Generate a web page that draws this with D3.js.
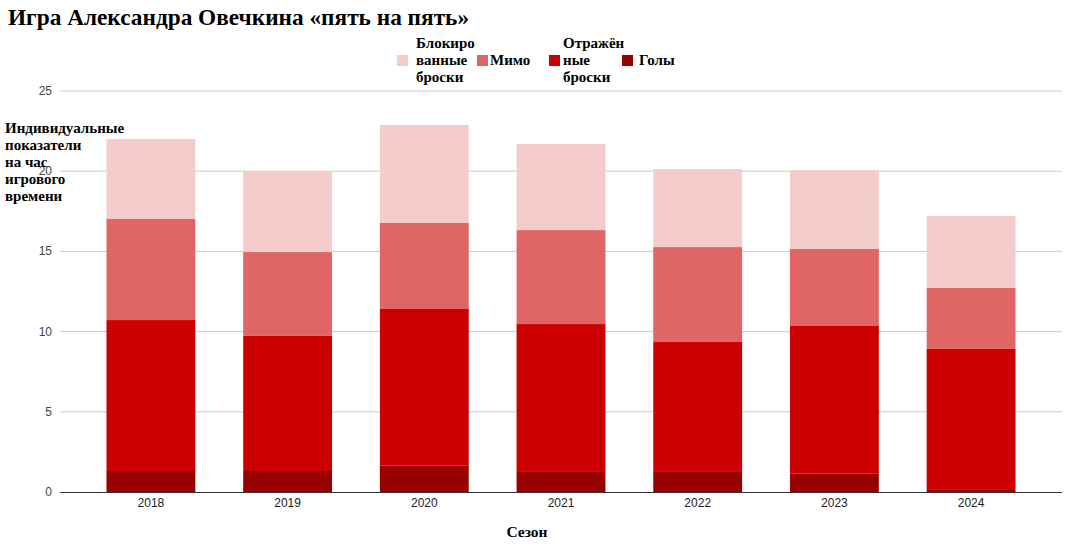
<!DOCTYPE html>
<html><head><meta charset="utf-8">
<script src="https://cdn.jsdelivr.net/npm/d3@7"></script>
<style>body{margin:0;background:#fff}svg{display:block}</style>
</head><body>
<svg id="c" width="1067" height="548"></svg>
<script>
const seasons = ["2018","2019","2020","2021","2022","2023","2024"];
const goals   = [1.31, 1.31, 1.64, 1.25, 1.25, 1.14, 0.18];
const saved   = [9.41, 8.42, 9.77, 9.22, 8.10, 9.21, 8.74];
const missed  = [6.30, 5.23, 5.36, 5.86, 5.92, 4.80, 3.80];
const blocked = [4.98, 5.05, 6.11, 5.37, 4.87, 4.92, 4.49];
const yTicks = [0, 5, 10, 15, 20, 25];
const seriesNames = ["Голы", "Отражённые броски", "Мимо", "Блокированные броски"];
const colors = ["#990000", "#cc0000", "#e06666", "#f4cccc"];

const svg = d3.select("#c");
const x = d3.scaleBand().domain(seasons).range([60, 1062]).paddingInner(0.35).paddingOuter(0.34);
const y = d3.scaleLinear().domain([0, 25]).range([492, 91]);

// gridlines
svg.append("g").selectAll("line").data(yTicks.filter(d => d > 0)).join("line")
  .attr("x1", 60).attr("x2", 1062).attr("y1", d => y(d)).attr("y2", d => y(d))
  .attr("stroke", "#cccccc").attr("stroke-width", 1);

// y tick labels
svg.append("g").selectAll("text").data(yTicks).join("text")
  .attr("x", 52).attr("y", d => y(d) + 4).attr("text-anchor", "end")
  .attr("font-family", "Liberation Sans, Arial, sans-serif").attr("font-size", 12).attr("fill", "#444")
  .text(d => d);

// stacked bars
const rows = seasons.map((s, i) => ({season: s, g: goals[i], s2: saved[i], m: missed[i], b: blocked[i]}));
const stack = d3.stack().keys(["g", "s2", "m", "b"])(rows);
svg.append("g").selectAll("g").data(stack).join("g")
  .attr("fill", (d, i) => colors[i])
  .selectAll("rect").data(d => d).join("rect")
  .attr("x", d => x(d.data.season)).attr("width", x.bandwidth())
  .attr("y", d => y(d[1])).attr("height", d => y(d[0]) - y(d[1]));

// x axis
const xa = svg.append("g").attr("transform", "translate(0,492)")
  .call(d3.axisBottom(x).tickSize(0).tickPadding(6));
xa.select(".domain").attr("stroke", "#333").attr("d", "M60,0.5H1062");
xa.selectAll("text").attr("font-family", "Liberation Sans, Arial, sans-serif").attr("font-size", 12).attr("fill", "#222");

const serif = "Liberation Serif, Times New Roman, serif";
// title
svg.append("text").attr("x", 8).attr("y", 25).attr("font-family", serif).attr("font-weight", "bold")
  .attr("font-size", 23.3).attr("fill", "#000").text("Игра Александра Овечкина «пять на пять»");

// y title
const yt = ["Индивидуальные", "показатели", "на час", "игрового", "времени"];
svg.append("text").attr("font-family", serif).attr("font-weight", "bold").attr("font-size", 15).attr("fill", "#000")
  .selectAll("tspan").data(yt).join("tspan").attr("x", 5).attr("y", (d, i) => 133 + i * 17).text(d => d);

// x title
svg.append("text").attr("x", 527).attr("y", 537).attr("text-anchor", "middle").attr("font-family", serif)
  .attr("font-weight", "bold").attr("font-size", 15.5).text("Сезон");

// legend
const legend = [
  {color: colors[3], sx: 397, tx: 416, lines: ["Блокиро", "ванные", "броски"]},
  {color: colors[2], sx: 477, tx: 490, lines: ["Мимо"]},
  {color: colors[1], sx: 549, tx: 563, lines: ["Отражён", "ные", "броски"]},
  {color: colors[0], sx: 622, tx: 639, lines: ["Голы"]}
];
const lg = svg.append("g");
legend.forEach(l => {
  lg.append("rect").attr("x", l.sx).attr("y", 55).attr("width", 11).attr("height", 11).attr("fill", l.color);
  const t = lg.append("text").attr("font-family", serif).attr("font-weight", "bold").attr("font-size", 15).attr("fill", "#000");
  const n = l.lines.length;
  t.selectAll("tspan").data(l.lines).join("tspan").attr("x", l.tx)
    .attr("y", (d, i) => 65 + (i - (n - 1) / 2) * 17).text(d => d);
});
</script>
</body></html>
